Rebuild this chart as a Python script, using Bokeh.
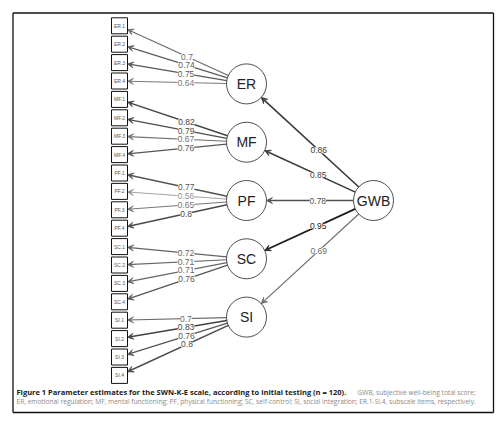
from math import hypot

from bokeh.plotting import figure
from bokeh.models import ColumnDataSource, Range1d, Arrow, VeeHead
from bokeh.core.properties import value
from bokeh.embed import file_html
from bokeh.resources import INLINE

# data
factors = ["ER", "MF", "PF", "SC", "SI"]
gwb_loadings = [0.86, 0.85, 0.78, 0.95, 0.69]
items = ["ER.1", "ER.2", "ER.3", "ER.4",
         "MF.1", "MF.2", "MF.3", "MF.4",
         "PF.1", "PF.2", "PF.3", "PF.4",
         "SC.1", "SC.2", "SC.3", "SC.4",
         "SI.1", "SI.2", "SI.3", "SI.4"]
item_factor = [f for f in factors for k in range(4)]
item_loadings = [0.7, 0.74, 0.75, 0.64,
                 0.82, 0.79, 0.67, 0.76,
                 0.77, 0.56, 0.65, 0.8,
                 0.72, 0.71, 0.71, 0.76,
                 0.7, 0.83, 0.76, 0.8]

caption_bold = "Figure 1 Parameter estimates for the SWN-K-E scale, according to initial testing (n = 120)."
caption_1 = "GWB, subjective well-being total score;"
caption_2 = ("ER, emotional regulation; MF, mental functioning; PF, physical functioning; "
             "SC, self-control; SI, social integration; ER.1-SI.4, subscale items, respectively.")

# layout (page pixels)
box_x, box_h = 119, 8
item_y = [25.3 + i * 18.4 for i in range(len(items))]
lat_x, lat_r = 246, 20
lat_y = [200 + (j - 2) * 58.3 for j in range(len(factors))]
gwb_x, gwb_y, gwb_r = 373, 200, 20
lab_frac = 0.41
fl, fr, ft, fb = 12.5, 493, 12.5, 412


def shade(v):
    g = int(max(20, min(170, 30 + (0.95 - v) * 300)))
    return "#%02x%02x%02x" % (g, g, g)


def width(v):
    return 0.8 + 2.5 * (v - 0.55)


def circle_pt(cx, cy, r, tx, ty):
    dx, dy = tx - cx, ty - cy
    d = hypot(dx, dy)
    return cx + r * dx / d, cy + r * dy / d


def box_pt(bx, by, h, sx, sy):
    dx, dy = sx - bx, sy - by
    t = h / max(abs(dx), abs(dy))
    return bx + dx * t, by + dy * t


p = figure(width=500, height=418, x_range=Range1d(0, 500), y_range=Range1d(418, 0),
           output_backend="svg", toolbar_location=None, min_border=0)
p.axis.visible = False
p.grid.visible = False
p.outline_line_color = None

# figure frame
p.segment(x0=[fl, fr, fr, fl], y0=[ft, ft, fb, fb], x1=[fr, fr, fl, fl], y1=[ft, fb, fb, ft],
          line_color="#111111", line_width=1.3)

edges = []  # x0, y0, x1, y1, value
for j, f in enumerate(factors):
    ly = lat_y[j]
    sx, sy = circle_pt(gwb_x, gwb_y, gwb_r, lat_x, ly)
    ex, ey = circle_pt(lat_x, ly, lat_r, gwb_x, gwb_y)
    edges.append((sx, sy, ex, ey, gwb_loadings[j]))
for i, it in enumerate(items):
    j = factors.index(item_factor[i])
    sx, sy = circle_pt(lat_x, lat_y[j], lat_r, box_x, item_y[i])
    ex, ey = box_pt(box_x, item_y[i], box_h, lat_x, lat_y[j])
    edges.append((sx, sy, ex, ey, item_loadings[i]))

for sx, sy, ex, ey, v in edges:
    c = shade(v)
    p.add_layout(Arrow(x_start=sx, y_start=sy, x_end=ex, y_end=ey,
                       line_color=c, line_width=width(v), level="underlay",
                       end=VeeHead(size=6, line_color=c, fill_color=c, line_width=0.8)))

lab = ColumnDataSource(dict(
    x=[e[0] + lab_frac * (e[2] - e[0]) for e in edges],
    y=[e[1] + lab_frac * (e[3] - e[1]) for e in edges],
    text=["%g" % e[4] for e in edges],
    color=[shade(e[4]) for e in edges],
))
p.text(x="x", y="y", text="text", source=lab, text_color="color",
       text_font=value("Liberation Sans"), text_font_size="8.5px",
       text_align="center", text_baseline="middle",
       background_fill_color="white", padding=0)

# indicator boxes
p.rect(x=[box_x] * len(items), y=item_y, width=2 * box_h, height=2 * box_h,
       fill_color="white", line_color="#111111", line_width=1)
p.text(x=[box_x] * len(items), y=item_y, text=items, text_color="#555555",
       text_font=value("Liberation Sans"), text_font_size="5px",
       text_align="center", text_baseline="middle")

# latent circles
p.circle(x=[lat_x] * len(factors) + [gwb_x], y=lat_y + [gwb_y],
         radius=lat_r, fill_color="white", line_color="#222222", line_width=0.8)
p.text(x=[lat_x] * len(factors) + [gwb_x], y=lat_y + [gwb_y], text=factors + ["GWB"],
       text_color="#222222", text_font=value("Liberation Sans"), text_font_size="14px",
       text_align="center", text_baseline="middle")

# caption
p.text(x=[16], y=[391.5], text=[caption_bold], text_color="#1a1a1a",
       text_font=value("Open Sans"), text_font_style="bold", text_font_size="7.5px",
       text_baseline="middle")
p.text(x=[357, 16], y=[391.5, 401], text=[caption_1, caption_2], text_color="#8a8a8a",
       text_font=value("Open Sans"), text_font_size="6.6px", text_baseline="middle")

open("out.html", "w").write(file_html(p, INLINE))
